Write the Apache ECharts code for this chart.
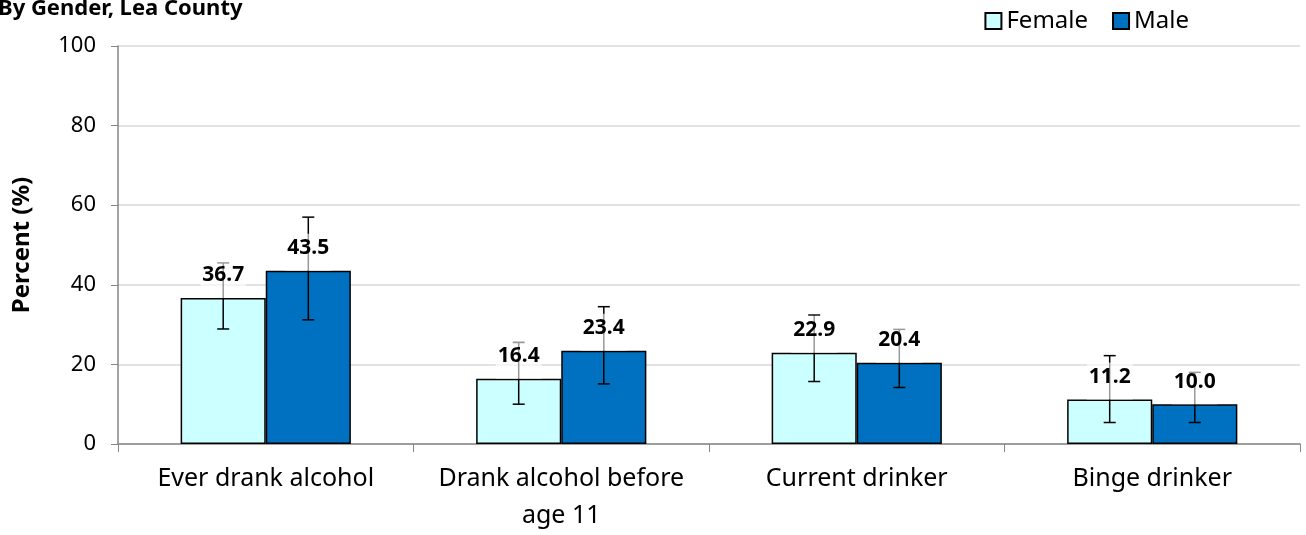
<!DOCTYPE html>
<html>
<head>
<meta charset="utf-8">
<script src="https://cdn.jsdelivr.net/npm/echarts@6/dist/echarts.min.js"></script>
<style>
  html, body { margin: 0; padding: 0; background: #fff; }
  #chart { width: 1306px; height: 535px; }
</style>
</head>
<body>
<div id="chart"></div>
<script>
// values
var categories = ['Ever drank alcohol', 'Drank alcohol before\nage 11', 'Current drinker', 'Binge drinker'];
var female = [36.7, 16.4, 22.9, 11.2];
var male = [43.5, 23.4, 20.4, 10.0];
// 95% CI ends (estimated)
var femaleLow = [28.9, 10.0, 15.7, 5.4];
var femaleHigh = [45.5, 25.5, 32.4, 22.2];
var maleLow = [31.2, 15.1, 14.2, 5.4];
var maleHigh = [57.0, 34.5, 28.8, 18.0];
var yTicks = [0, 20, 40, 60, 80, 100];

var FONT = 'Noto Sans';
var BARW = 0.288;   // share of the band taken by one bar

function ciData(low, high, val) {
  var out = [];
  for (var i = 0; i < val.length; i++) {
    out.push([i, low[i], high[i], val[i]]);
  }
  return out;
}

// side = -1 for the left bar (Female), +1 for the right bar (Male)
function errRender(side) {
  return function (params, api) {
    var idx = api.value(0);
    var band = api.size([1, 0])[0];
    var bw = band * BARW;
    var x = api.coord([idx, 0])[0] + side * bw / 2;
    var yLo = api.coord([idx, api.value(1)])[1];
    var yHi = api.coord([idx, api.value(2)])[1];
    var yV = api.coord([idx, api.value(3)])[1];
    var ls = { stroke: '#000', lineWidth: 1.5 };
    return {
      type: 'group',
      children: [
        { type: 'line', shape: { x1: x, y1: yLo, x2: x, y2: yHi }, style: ls },
        { type: 'line', shape: { x1: x - 6, y1: yHi, x2: x + 6, y2: yHi }, style: ls },
        { type: 'line', shape: { x1: x - 6, y1: yLo, x2: x + 6, y2: yLo }, style: ls },
        {
          type: 'text', x: x, y: yV,
          style: {
            text: api.value(3).toFixed(1),
            font: 'bold 21px "' + FONT + '"',
            fill: '#000',
            align: 'center',
            verticalAlign: 'bottom',
            backgroundColor: 'rgba(255,255,255,0.6)',
            padding: [4, 2, 12, 2]
          }
        }
      ]
    };
  };
}

var myChart = echarts.init(document.getElementById('chart'));
var option = {
  animation: false,
  textStyle: { fontFamily: FONT },
  title: {
    text: 'By Gender, Lea County',
    left: -7, top: -7,
    textStyle: { fontFamily: FONT, fontWeight: 'bold', fontSize: 22, color: '#000' }
  },
  legend: {
    data: ['Female', 'Male'],
    right: 112, top: 4,
    itemWidth: 16, itemHeight: 16, itemGap: 24,
    icon: 'rect',
    textStyle: { fontFamily: FONT, fontSize: 24, color: '#000' }
  },
  grid: { left: 118, right: 6, top: 46, bottom: 91 },
  xAxis: {
    type: 'category',
    data: categories,
    axisLine: { lineStyle: { color: '#868686', width: 1.5 } },
    axisTick: { show: true, length: 8, lineStyle: { color: '#868686' } },
    axisLabel: { interval: 0, fontFamily: FONT, fontSize: 25, color: '#000', margin: 16, lineHeight: 37 }
  },
  yAxis: {
    type: 'value',
    min: 0, max: 100, interval: 20,
    name: 'Percent (%)',
    nameLocation: 'middle',
    nameGap: 84,
    nameTextStyle: { fontFamily: FONT, fontWeight: 'bold', fontSize: 24, color: '#000' },
    axisLine: { show: true, lineStyle: { color: '#868686', width: 1.5 } },
    axisTick: { show: true, length: 7, lineStyle: { color: '#868686' } },
    axisLabel: {
      fontFamily: FONT, fontSize: 22, color: '#000', margin: 22,
      formatter: function (v) { return yTicks.indexOf(v) >= 0 ? String(v) : ''; }
    },
    splitLine: { lineStyle: { color: '#d9d9d9', width: 1.5 } }
  },
  series: [
    {
      name: 'Female', type: 'bar', data: female,
      barWidth: (BARW * 100) + '%', barGap: '0%',
      itemStyle: { color: '#ccffff', borderColor: '#000', borderWidth: 1.5 },
      z: 2
    },
    {
      name: 'Male', type: 'bar', data: male,
      barWidth: (BARW * 100) + '%', barGap: '0%',
      itemStyle: { color: '#0070c0', borderColor: '#000', borderWidth: 1.5 },
      z: 2
    },
    {
      type: 'custom', name: 'Female CI',
      renderItem: errRender(-1),
      data: ciData(femaleLow, femaleHigh, female),
      encode: { x: 0, y: [1, 2] },
      z: 4, silent: true
    },
    {
      type: 'custom', name: 'Male CI',
      renderItem: errRender(1),
      data: ciData(maleLow, maleHigh, male),
      encode: { x: 0, y: [1, 2] },
      z: 4, silent: true
    }
  ]
};
myChart.setOption(option);
</script>
</body>
</html>
